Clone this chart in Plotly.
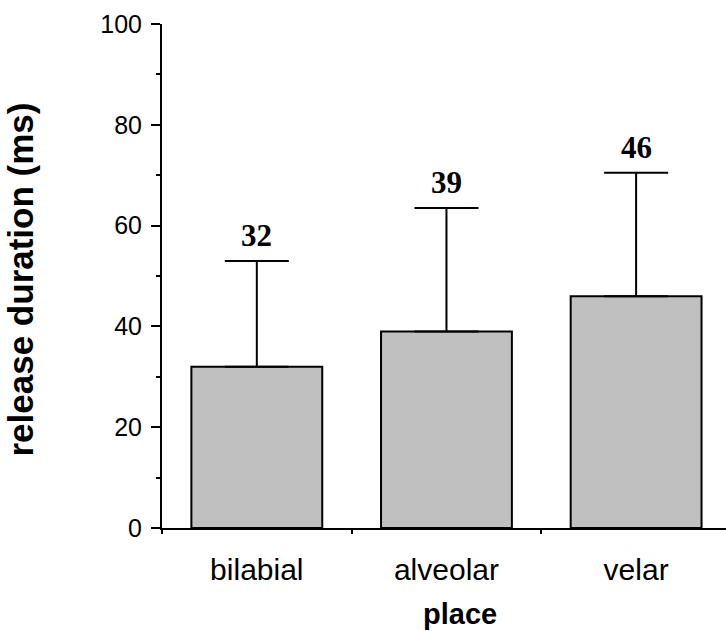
import plotly.graph_objects as go

# Mean release duration by place of articulation, with SD error bars
places = ["bilabial", "alveolar", "velar"]
mean_ms = [32, 39, 46]
sd_ms = [21, 24.5, 24.5]
value_labels = ["32", "39", "46"]
y_ticks = [0, 20, 40, 60, 80, 100]

fig = go.Figure()

fig.add_trace(go.Bar(
    x=places,
    y=mean_ms,
    width=0.69,
    marker=dict(color="#C0C0C0", line=dict(color="black", width=2)),
    error_y=dict(type="data", array=sd_ms, symmetric=False, arrayminus=[0] * len(sd_ms),
                 color="black", thickness=2, width=32),
    showlegend=False,
    hoverinfo="skip",
))

# Mean values printed above each error bar
for p, m, s, lab in zip(places, mean_ms, sd_ms, value_labels):
    fig.add_annotation(
        x=p, y=m + s, xref="x", yref="y",
        text=f"<b>{lab}</b>", showarrow=False,
        xanchor="center", yanchor="bottom", yshift=6,
        font=dict(family="Liberation Serif, Times New Roman, serif", size=31, color="black"),
    )

# Axis titles
fig.add_annotation(
    x=-0.25, y=0.493, xref="paper", yref="paper",
    text="<b>release duration (ms)</b>", textangle=-90, showarrow=False,
    xanchor="center", yanchor="middle",
    font=dict(family="Liberation Sans, Arial, sans-serif", size=35, color="black"),
)
fig.add_annotation(
    x=0.528, y=-0.17, xref="paper", yref="paper",
    text="<b>place</b>", showarrow=False,
    xanchor="center", yanchor="middle",
    font=dict(family="Liberation Sans, Arial, sans-serif", size=29, color="black"),
)

fig.update_layout(
    width=726, height=631,
    margin=dict(l=162, r=0, t=24, b=103),
    paper_bgcolor="white", plot_bgcolor="white",
    font=dict(family="Liberation Sans, Arial, sans-serif", color="black"),
)

fig.update_xaxes(
    type="category",
    range=[-0.5, 2.474],
    showline=True, linecolor="black", linewidth=2,
    ticks="outside", tickson="boundaries", ticklen=4, tickwidth=2, tickcolor="black",
    tickfont=dict(size=30, color="black"),
    ticklabelstandoff=14,
    showgrid=False, zeroline=False,
)

fig.update_yaxes(
    range=[0, 100],
    tickvals=y_ticks,
    showline=True, linecolor="black", linewidth=2,
    ticks="outside", ticklen=9, tickwidth=2, tickcolor="black",
    minor=dict(ticks="outside", ticklen=4, tickwidth=2, tickcolor="black", dtick=10, showgrid=False),
    tickfont=dict(size=25, color="black"),
    ticklabelstandoff=4,
    showgrid=False, zeroline=False,
)

fig.write_html("out.html")
